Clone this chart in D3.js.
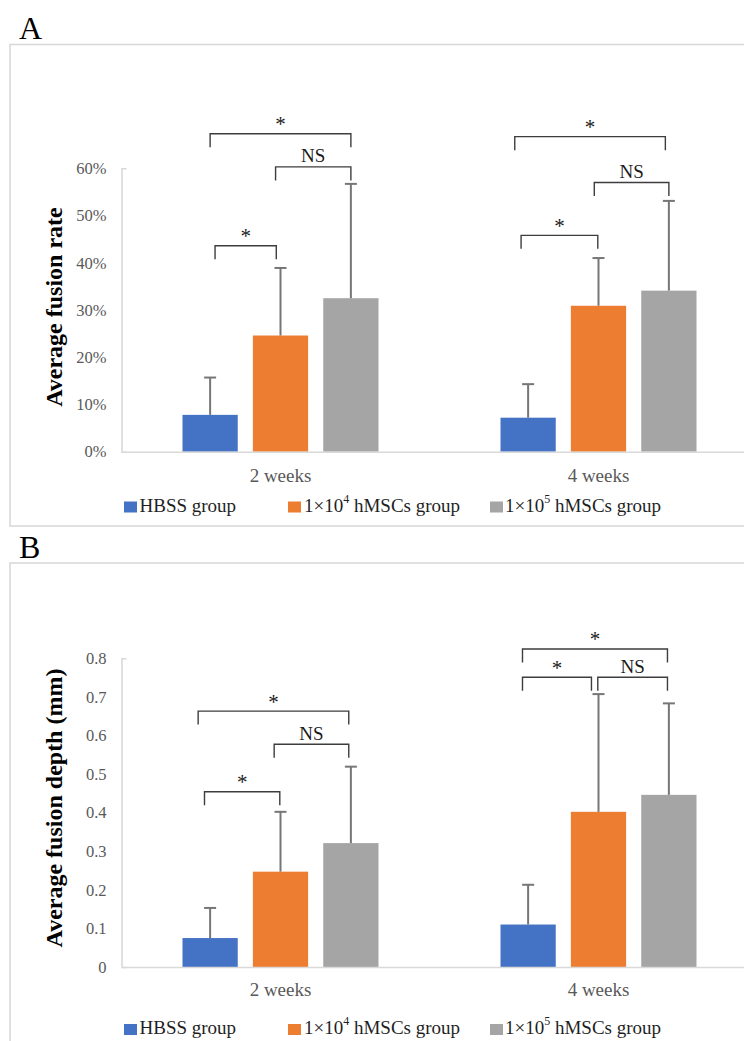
<!DOCTYPE html>
<html>
<head>
<meta charset="utf-8">
<script src="https://cdn.jsdelivr.net/npm/d3@7"></script>
<style>
  html, body { margin: 0; padding: 0; background: #fff; }
  svg { display: block; }
  svg text { font-family: "Liberation Serif", "Times New Roman", "DejaVu Serif", serif !important; }
</style>
</head>
<body>
<svg id="chart" width="744" height="1041"></svg>
<script>
// ---------- data ----------
const categories = ["2 weeks", "4 weeks"];
const groups = ["HBSS group", "1×10^4 hMSCs group", "1×10^5 hMSCs group"];
const colors = ["#4472C4", "#ED7D31", "#A5A5A5"];

// Panel A: average fusion rate (mean, SD) per category, per group
const rateMeans = [[0.078, 0.246, 0.325], [0.072, 0.309, 0.341]];
const rateSD    = [[0.079, 0.143, 0.242], [0.071, 0.101, 0.190]];
const rateTicks = [0, 0.1, 0.2, 0.3, 0.4, 0.5, 0.6];

// Panel B: average fusion depth (mm)
const depthMeans = [[0.075, 0.247, 0.321], [0.110, 0.402, 0.446]];
const depthSD    = [[0.078, 0.155, 0.198], [0.103, 0.305, 0.237]];
const depthTicks = [0, 0.1, 0.2, 0.3, 0.4, 0.5, 0.6, 0.7, 0.8];

// significance brackets: category, from-bar index, to-bar index, level (data units), label
const rateBrackets = [
  { cat: "2 weeks", from: 0,     to: 2,    level: 0.673, label: "*" },
  { cat: "2 weeks", from: 0.93,  to: 2,    level: 0.603, label: "NS" },
  { cat: "2 weeks", from: 0.07,  to: 0.94, level: 0.436, label: "*" },
  { cat: "4 weeks", from: -0.19, to: 1.95, level: 0.667, label: "*" },
  { cat: "4 weeks", from: 0.94,  to: 2,    level: 0.570, label: "NS" },
  { cat: "4 weeks", from: -0.1,  to: 0.99, level: 0.458, label: "*" }
];
const depthBrackets = [
  { cat: "2 weeks", from: -0.17, to: 1.97, level: 0.663, label: "*" },
  { cat: "2 weeks", from: 0.91,  to: 1.97, level: 0.577, label: "NS" },
  { cat: "2 weeks", from: -0.08, to: 0.99, level: 0.454, label: "*" },
  { cat: "4 weeks", from: -0.08, to: 1.98, level: 0.824, label: "*" },
  { cat: "4 weeks", from: -0.08, to: 0.9,  level: 0.7505, label: "*" },
  { cat: "4 weeks", from: 0.99,  to: 1.98, level: 0.7505, label: "NS" }
];

// ---------- drawing ----------
const svg = d3.select("#chart");

function panel(opts) {
  const g = svg.append("g");
  // frame
  g.append("rect")
    .attr("x", 10).attr("y", opts.frameTop)
    .attr("width", 800).attr("height", opts.frameBottom - opts.frameTop)
    .attr("fill", "none").attr("stroke", "#d9d9d9").attr("stroke-width", 1.6);
  // panel letter
  g.append("text").attr("x", 19).attr("y", opts.letterY)
    .attr("font-size", 32).attr("fill", "#000").text(opts.letter);

  const left = 121.5;
  const x0 = d3.scaleBand().domain(categories).range([left, left + 636]).padding(0);
  const y = d3.scaleLinear().domain([0, opts.max]).range([opts.y0, opts.yTop]);
  const span = 196;
  const x1 = d3.scaleBand().domain(d3.range(groups.length))
    .range([-span / 2, span / 2]).paddingInner(0.215).paddingOuter(0);
  const step = x1.step();
  const center = (cat, i) => x0(cat) + x0.bandwidth() / 2 + x1(0) + x1.bandwidth() / 2 + i * step;

  // y axis
  const ya = g.append("g").attr("transform", `translate(${left},0)`)
    .call(d3.axisLeft(y).tickValues(opts.ticks).tickFormat(opts.fmt)
      .tickSize(0).tickSizeOuter(-5).tickPadding(15));
  ya.select(".domain").attr("stroke", "#d9d9d9").attr("stroke-width", 1.6);
  ya.selectAll("text").attr("font-size", 16.5).attr("fill", "#595959");

  // bars
  categories.forEach((cat, ci) => {
    const cg = g.append("g");
    cg.selectAll("rect").data(opts.means[ci]).join("rect")
      .attr("x", (d, i) => center(cat, i) - x1.bandwidth() / 2)
      .attr("width", x1.bandwidth())
      .attr("y", d => y(d))
      .attr("height", d => y(0) - y(d))
      .attr("fill", (d, i) => colors[i]);
    // error bars (upper only)
    const eb = cg.selectAll("g.err").data(opts.means[ci].map((m, i) => ({ m, s: opts.sd[ci][i], i })))
      .join("g").attr("class", "err");
    eb.append("line")
      .attr("x1", d => center(cat, d.i)).attr("x2", d => center(cat, d.i))
      .attr("y1", d => y(d.m)).attr("y2", d => y(d.m + d.s))
      .attr("stroke", "#767676").attr("stroke-width", 2);
    eb.append("line")
      .attr("x1", d => center(cat, d.i) - 6).attr("x2", d => center(cat, d.i) + 6)
      .attr("y1", d => y(d.m + d.s)).attr("y2", d => y(d.m + d.s))
      .attr("stroke", "#767676").attr("stroke-width", 2);
  });

  // x axis
  const xa = g.append("g").attr("transform", `translate(0,${y(0)})`)
    .call(d3.axisBottom(x0).tickSize(0).tickPadding(opts.xPad));
  xa.select(".domain").attr("stroke", "#d9d9d9").attr("stroke-width", 1.6);
  xa.selectAll("text").attr("font-size", 19).attr("fill", "#595959");

  // y label
  g.append("text")
    .attr("transform", `translate(62,${opts.labelY}) rotate(-90)`)
    .attr("text-anchor", "middle").attr("font-size", 24).attr("font-weight", "bold")
    .attr("fill", "#000").text(opts.ylabel);

  // brackets
  const legLen = 13.5;
  opts.brackets.forEach(b => {
    const xa_ = center(b.cat, 0) + b.from * step;
    const xb_ = center(b.cat, 0) + b.to * step;
    const yy = y(b.level);
    g.append("path")
      .attr("d", `M${xa_},${yy + legLen}V${yy}H${xb_}V${yy + legLen}`)
      .attr("fill", "none").attr("stroke", "#3d3d3d").attr("stroke-width", 1.4);
    g.append("text")
      .attr("x", (xa_ + xb_) / 2).attr("y", yy - (b.label === "*" ? 2.5 : 4.5))
      .attr("text-anchor", "middle").attr("font-size", b.label === "*" ? 21 : 19).attr("fill", "#1a1a1a")
      .text(b.label);
  });

  // legend
  const legX = [124, 288, 490];
  const legTextX = [139.5, 304, 505];
  groups.forEach((name, i) => {
    g.append("rect").attr("x", legX[i]).attr("y", opts.legY - 10)
      .attr("width", 13).attr("height", 11).attr("fill", colors[i]);
    const t = g.append("text").attr("x", legTextX[i]).attr("y", opts.legY)
      .attr("font-size", 19).attr("fill", "#1f1f1f");
    const parts = name.split(/\^(\d)/);
    if (parts.length === 1) {
      t.text(name);
    } else {
      t.append("tspan").text(parts[0]);
      t.append("tspan").attr("font-size", 12).attr("dy", -9).text(parts[1]);
      t.append("tspan").attr("dy", 9).text(parts[2]);
    }
  });
}

panel({
  letter: "A", letterY: 39, frameTop: 44.5, frameBottom: 526,
  max: 0.6, y0: 451.7, yTop: 168.3, ticks: rateTicks, fmt: d3.format(".0%"),
  means: rateMeans, sd: rateSD, brackets: rateBrackets,
  ylabel: "Average fusion rate", labelY: 307, xPad: 16.5, legY: 511.5
});

panel({
  letter: "B", letterY: 557.5, frameTop: 563, frameBottom: 1100,
  max: 0.8, y0: 967, yTop: 658.2, ticks: depthTicks, fmt: d => d === 0 ? "0" : d3.format(".1f")(d),
  means: depthMeans, sd: depthSD, brackets: depthBrackets,
  ylabel: "Average fusion depth (mm)", labelY: 808, xPad: 16, legY: 1034
});
</script>
</body>
</html>
